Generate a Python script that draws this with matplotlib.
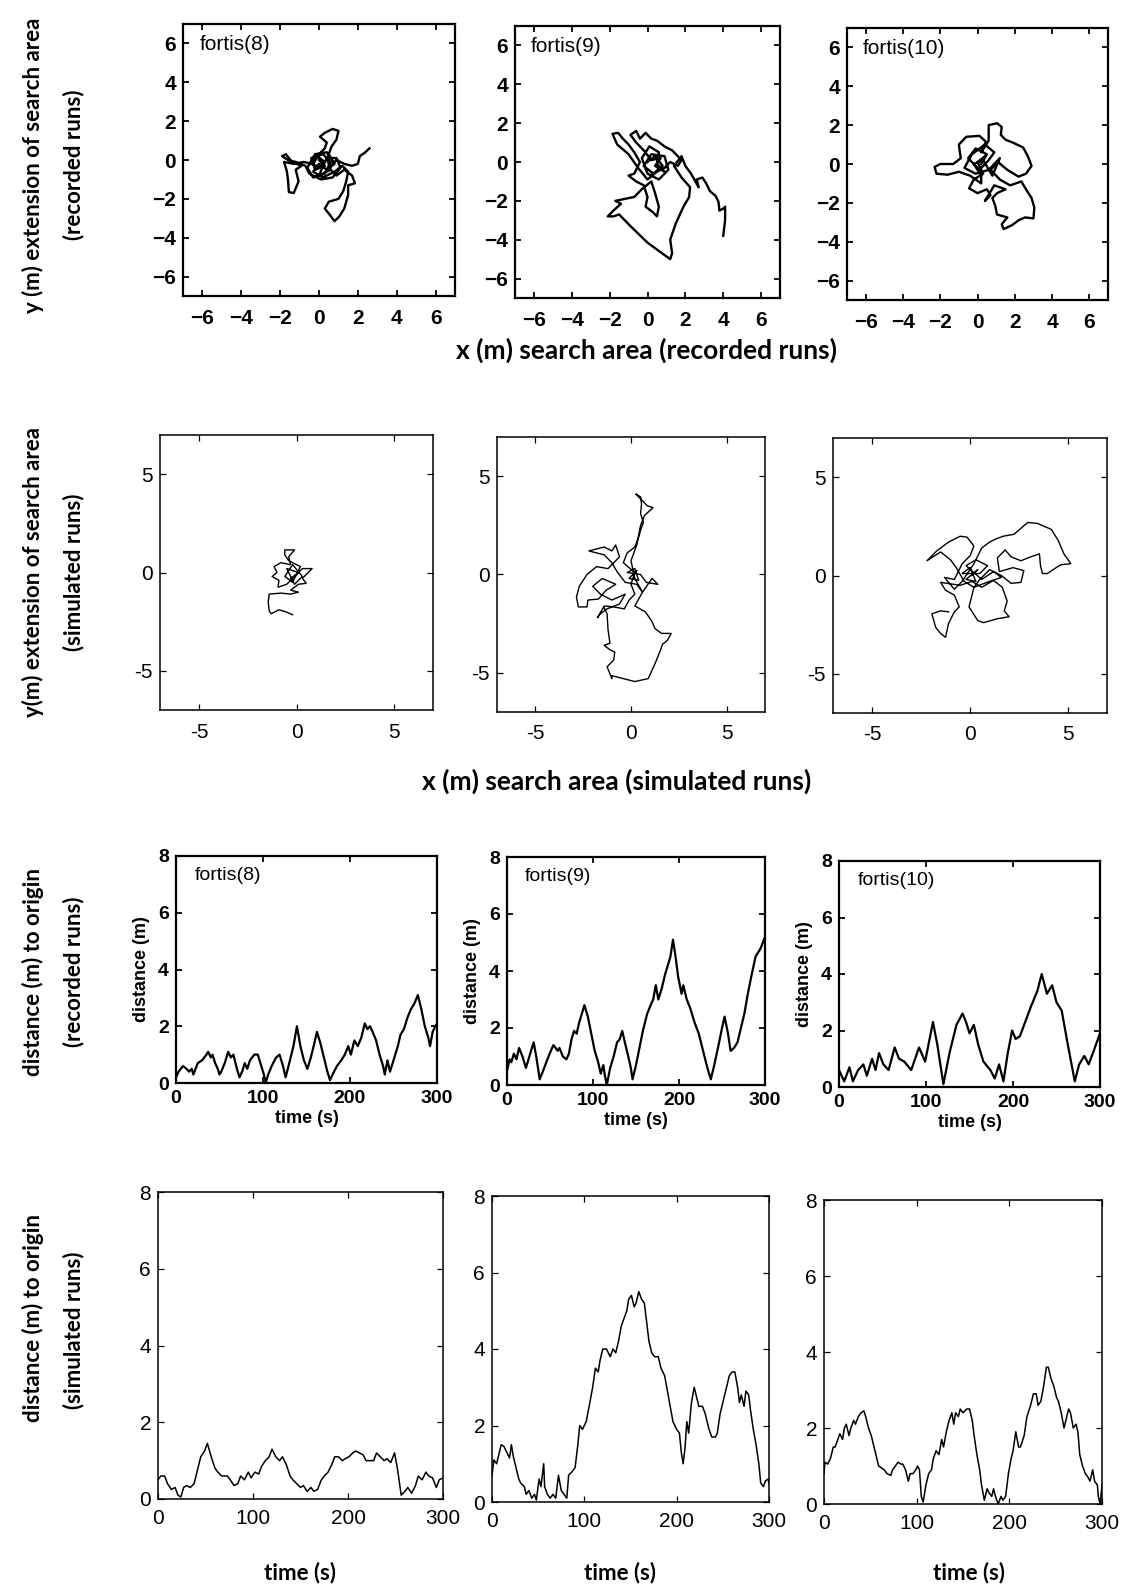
import numpy as np
import matplotlib.pyplot as plt

plt.rcParams['font.family'] = ['Liberation Sans', 'DejaVu Sans']

W, H = 1123, 1587

names = ['fortis(8)', 'fortis(9)', 'fortis(10)']
xy_ticks_rec = [-6, -4, -2, 0, 2, 4, 6]
xy_labels_rec = ['\u22126', '\u22124', '\u22122', '0', '2', '4', '6']
xy_ticks_sim = [-5, 0, 5]
xy_labels_sim = ['-5', '0', '5']
t_ticks = [0, 100, 200, 300]
d_ticks = [0, 2, 4, 6, 8]

# recorded search paths (x, y) in m
rec8 = [(0, 0), (0.3, -0.3), (-0.2, -0.5), (-0.4, 0.1), (0.2, 0.3), (0.6, -0.1), (0.3, -0.7), (-0.3, -0.9),
        (-0.6, -0.4), (-0.2, 0.3), (0.4, 0.4), (0.5, 0.2), (0.1, -0.4), (-0.4, -0.2), (-0.1, 0.2), (0.3, -0.1),
        (0.0, -0.8), (0.6, -0.5), (0.4, 0.1), (0.9, 0.1), (1.1, -0.4), (0.7, -0.9), (0.1, -1.0), (-0.5, -0.7),
        (-0.7, -0.3), (-1.2, -0.1), (-1.6, 0.0), (-1.9, 0.2), (-1.7, 0.3), (-1.4, -0.1), (-0.9, -0.3),
        (-1.2, -0.5), (-1.05, -1.1), (-1.3, -1.7), (-1.55, -1.65), (-1.6, -1.0), (-1.65, -0.6), (-1.8, -0.1),
        (-1.3, -0.2), (-0.8, -0.1), (-0.3, -0.2), (0.0, 0.3), (0.3, 0.6), (0.4, 0.9), (0.05, 1.2), (0.3, 1.4),
        (0.7, 1.6), (1.0, 1.5), (0.9, 1.05), (0.65, 0.7), (0.5, 0.3), (0.8, -0.2), (0.4, -0.5), (0.0, -0.2),
        (-0.3, -0.6), (0.2, -0.9), (0.8, -0.6), (1.2, -0.3), (1.5, -0.6), (1.4, -1.1), (1.25, -1.6),
        (1.0, -2.0), (0.5, -2.15), (0.3, -2.5), (0.5, -2.75), (0.8, -3.15), (1.05, -2.9), (1.3, -2.5),
        (1.5, -1.8), (1.5, -1.3), (1.85, -1.2), (1.7, -0.8), (1.3, -0.5), (0.9, -0.8), (0.5, -0.4),
        (0.9, 0.0), (1.3, -0.2), (1.7, -0.3), (2.0, -0.2), (2.1, 0.2), (2.35, 0.37), (2.6, 0.6)]
rec9 = [(0, 0), (0.4, 0.3), (0.8, -0.2), (0.3, -0.6), (-0.2, -0.2), (0.2, 0.4), (0.9, 0.3), (1.1, -0.4),
        (0.6, -0.9), (0.0, -0.6), (-0.3, 0.2), (0.1, 0.8), (0.6, 0.5), (0.5, -0.1), (0.9, -0.5), (0.4, -0.2),
        (0.7, 0.2), (0.2, 0.1), (-0.2, 0.6), (-0.6, 1.0),
        (-0.9, 1.4), (-0.6, 1.6), (-0.4, 1.2), (-0.1, 1.5), (0.2, 1.2), (0.5, 1.1), (0.9, 0.8), (1.3, 0.6),
        (1.6, 0.3), (1.8, 0.1), (1.6, -0.2), (1.2, 0.0), (0.9, -0.3), (0.5, -0.5), (0.0, -0.9), (-0.5, -0.3),
        (-1.0, 0.4), (-1.6, 0.9), (-1.85, 1.45), (-1.55, 1.5), (-1.3, 1.2), (-1.0, 0.9), (-0.7, 0.5),
        (-0.4, 0.0), (-0.7, -0.6), (-1.0, -0.7), (-0.6, -1.0), (-0.2, -1.2), (0.0, -1.8), (-0.1, -2.3),
        (0.3, -2.6), (0.5, -2.8), (0.6, -2.3), (0.4, -1.6), (0.2, -1.0), (-0.3, -1.4), (-0.7, -1.8),
        (-1.2, -1.9), (-1.7, -2.0), (-1.4, -2.15), (-1.8, -2.5), (-2.1, -2.8), (-1.8, -2.8), (-1.5, -2.7),
        (-0.9, -3.3), (0.0, -4.15), (0.7, -4.65), (1.2, -5.0), (1.3, -4.7), (1.2, -4.0), (1.5, -3.15),
        (1.9, -2.3), (2.2, -1.8), (2.25, -1.3), (1.8, -0.8), (1.4, -0.2), (1.8, 0.3), (2.0, -0.2),
        (2.3, -0.6), (2.7, -1.3), (2.6, -0.9), (2.9, -0.8), (3.1, -1.1), (3.3, -1.5), (3.6, -1.75),
        (3.75, -2.05), (3.8, -2.5), (4.0, -2.4), (4.1, -2.3), (4.1, -3.0), (4.0, -3.8)]
rec10 = [(0.2, 0.0), (0.5, 0.5), (-0.1, 0.8), (-0.5, 0.3), (0.1, -0.3), (0.6, 0.2), (0.9, 0.6), (0.4, 1.0),
         (-0.3, 0.5), (-0.7, -0.2), (-0.1, -0.5), (0.6, -0.3), (1.2, 0.3), (0.8, -0.6), (0.3, 0.2),
         (-0.2, 0.0), (0.2, -0.6), (0.2, -1.0),
         (-0.4, -0.6), (-1.0, -0.4), (-1.6, -0.55), (-2.2, -0.5), (-2.3, -0.15), (-2.0, 0.0), (-1.3, 0.0),
         (-0.9, 0.3), (-1.0, 1.0), (-0.6, 1.4), (0.1, 1.45), (0.45, 1.15), (0.2, 0.6), (0.6, 1.2), (0.6, 2.0),
         (1.05, 2.1), (1.3, 1.9), (1.25, 1.5), (1.5, 1.25), (1.9, 1.1), (2.45, 0.85), (2.7, 0.4), (2.9, -0.1),
         (2.6, -0.5), (2.2, -0.65), (1.6, -0.3), (1.1, 0.1), (0.7, -0.3), (1.2, -0.8), (1.75, -1.1),
         (2.35, -0.9), (2.6, -1.3), (2.9, -1.75), (3.05, -2.25), (3.0, -2.8), (2.55, -2.75), (2.2, -2.9),
         (1.85, -3.15), (1.4, -3.35), (1.3, -3.1), (1.6, -2.75), (1.05, -2.6), (0.95, -2.15), (0.8, -1.75),
         (1.05, -1.5), (1.5, -1.3), (0.9, -1.1), (0.4, -1.9), (0.7, -1.6), (0.5, -1.3), (0.0, -1.5),
         (-0.45, -1.25), (-0.2, -0.8), (0.3, -0.5), (0.0, 0.1), (0.4, 0.4)]

# simulated search paths (x, y) in m
sim8 = [(-0.3, -0.3), (0.1, 0.0), (-0.5, 0.2), (-0.1, -0.6), (0.3, -0.2), (-0.2, 0.4), (-0.6, -0.2),
        (-0.2, -0.5), (0.2, 0.3), (-0.4, 0.6), (-0.6, 0.9), (-0.6, 1.15), (-0.1, 1.15), (-0.4, 0.8),
        (-0.3, 0.4), (-0.8, 0.5), (-1.15, 0.3), (-1.0, 0.0), (-1.25, -0.2), (-0.9, -0.4), (-0.95, -0.75),
        (-0.5, -0.6), (-0.1, -0.2), (0.3, 0.2), (0.8, 0.2), (0.6, 0.0), (0.3, -0.3), (0.5, -0.55),
        (0.1, -0.6), (-0.3, -0.9), (0.1, -1.0), (-0.3, -1.1), (-0.8, -1.05), (-1.4, -1.1), (-1.45, -1.5),
        (-1.4, -1.95), (-1.3, -2.1), (-0.9, -1.9), (-0.55, -2.0), (-0.2, -2.15)]
sim9 = [(0.1, 0.0), (0.3, 0.2), (-0.1, -0.2), (0.4, -0.3), (0.2, 0.3), (-0.2, 0.1), (0.5, 0.0), (0.8, -0.4),
        (1.4, -0.5), (1.1, -0.2), (0.6, -0.9), (0.3, -0.5), (-0.3, -0.4), (-0.7, 0.1), (-1.0, 0.6),
        (-1.4, 1.0), (-2.2, 1.2), (-1.4, 1.4), (-1.0, 1.2), (-0.8, 1.5), (-0.6, 0.9), (-1.2, 0.3),
        (-1.8, 0.4), (-2.3, 0.0), (-2.7, -0.6), (-2.85, -1.15), (-2.75, -1.65), (-2.3, -1.65),
        (-2.25, -1.3), (-1.7, -1.25), (-1.3, -0.8), (-0.8, -0.5), (-1.5, -0.2), (-2.0, -0.6), (-1.6, -1.0),
        (-1.0, -1.3), (-0.3, -1.0), (-0.6, -1.5), (-1.25, -1.75), (-1.6, -2.0), (-1.75, -2.2), (-1.4, -1.6),
        (-0.9, -1.65), (-0.35, -1.75), (-0.1, -1.3), (0.2, -1.0), (0.0, -0.5), (0.2, 0.1), (-0.4, 0.6),
        (-0.2, 1.1), (0.2, 1.4), (0.4, 1.9), (0.5, 2.25), (0.65, 2.65), (0.5, 3.1), (0.55, 3.6),
        (0.5, 3.95), (0.25, 4.1), (0.85, 3.5), (1.15, 3.4), (0.7, 3.0), (0.5, 2.5), (0.3, 1.5), (0.0, 0.7),
        (0.2, -0.2), (0.6, -0.9), (0.2, -1.6), (0.75, -1.9), (1.1, -2.4), (1.25, -2.75), (1.6, -3.0),
        (2.1, -3.0), (1.9, -3.35), (1.65, -3.55), (1.5, -3.95), (1.25, -4.55), (0.9, -5.3), (0.2, -5.45),
        (-0.4, -5.3), (-1.0, -5.15), (-1.0, -5.3), (-1.25, -4.7), (-0.9, -4.35), (-0.85, -3.95),
        (-1.15, -3.8), (-1.4, -3.6), (-1.1, -3.5), (-1.2, -2.8), (-1.25, -2.0), (-1.4, -1.7)]
sim10 = [(0.1, 0.0), (0.4, 0.3), (-0.2, -0.2), (0.3, -0.3), (0.0, 0.4), (-0.4, 0.1), (0.5, 0.1), (0.9, 0.5),
         (0.3, 0.8), (-0.2, 0.5), (0.6, -0.2), (1.2, 0.2), (1.6, -0.1), (1.0, -0.3), (0.2, -0.6),
         (-0.3, -0.3), (-0.7, 0.4), (-1.0, 0.8), (-1.5, 1.2), (-2.2, 0.75), (-1.7, 1.25), (-1.1, 1.7),
         (-0.5, 2.0), (-0.15, 1.95), (0.2, 1.5), (0.0, 1.0), (-0.4, 0.6), (-0.8, -0.2), (-1.3, -0.1),
         (-0.8, -0.7), (-0.4, -0.3), (0.2, 0.6), (0.6, 1.4), (1.0, 1.7), (1.3, 1.85), (1.7, 2.0), (2.25, 2.1),
         (2.95, 2.7), (3.45, 2.65), (4.15, 2.35), (4.5, 1.8), (4.8, 1.1), (5.15, 0.6), (4.65, 0.55),
         (4.4, 0.4), (3.95, 0.1), (3.7, 0.1), (3.6, 0.5), (3.55, 1.1), (3.1, 0.95), (2.6, 0.75), (2.1, 0.95),
         (1.8, 1.3), (1.4, 0.9), (1.5, 0.2), (2.2, 0.4), (2.75, 0.25), (2.6, -0.35), (2.1, -0.4), (1.6, 0.0),
         (1.0, 0.3), (0.5, -0.2), (0.2, -0.6), (-0.05, -1.6), (0.4, -2.3), (0.7, -2.4), (1.4, -2.2),
         (2.0, -2.1), (1.75, -1.8), (1.9, -1.3), (1.65, -0.6), (1.2, -0.25), (0.6, -0.6), (0.1, -0.3),
         (-0.5, -0.5), (-1.5, -0.35), (-1.25, -0.75), (-0.8, -1.0), (-0.55, -1.6), (-0.8, -1.85),
         (-1.1, -2.45), (-1.25, -3.15), (-1.5, -2.95), (-1.75, -2.65), (-1.95, -1.95), (-1.5, -1.8),
         (-1.1, -1.85)]

# distance to origin (t in s, d in m), recorded runs
dist_rec8 = [(0, 0.2), (3, 0.4), (8, 0.6), (12, 0.5), (15, 0.4), (18, 0.5), (20, 0.3), (25, 0.7), (30, 0.8),
             (35, 1.0), (37, 1.1), (40, 0.9), (42, 1.0), (45, 0.7), (48, 0.5), (50, 0.3), (52, 0.4), (56, 0.7),
             (60, 1.1), (63, 0.9), (66, 1.0), (70, 0.5), (73, 0.2), (76, 0.4), (79, 0.7), (82, 0.5), (85, 0.8),
             (90, 1.0), (94, 1.0), (98, 0.6), (101, 0.3), (103, 0.0), (106, 0.3), (110, 0.6), (115, 0.9),
             (119, 1.0), (123, 0.6), (126, 0.2), (131, 0.8), (135, 1.3), (139, 2.0), (143, 1.3), (147, 0.8),
             (151, 0.5), (155, 0.9), (159, 1.4), (162, 1.8), (166, 1.4), (170, 0.9), (174, 0.4), (177, 0.1),
             (180, 0.3), (185, 0.6), (190, 0.8), (194, 1.0), (198, 1.3), (201, 1.0), (205, 1.5), (209, 1.3),
             (213, 1.6), (217, 2.1), (220, 1.9), (223, 2.0), (226, 1.8), (230, 1.5), (234, 1.0), (238, 0.6),
             (240, 0.3), (243, 0.8), (246, 0.4), (249, 0.7), (252, 1.0), (255, 1.3), (258, 1.7), (262, 1.9),
             (266, 2.3), (270, 2.6), (274, 2.8), (278, 3.1), (282, 2.6), (286, 2.0), (290, 1.6), (292, 1.3),
             (295, 1.8), (298, 2.0), (300, 2.1)]
dist_rec9 = [(0, 0.5), (3, 0.9), (5, 0.8), (8, 1.1), (11, 0.9), (14, 1.3), (18, 1.0), (22, 0.6), (27, 1.1),
             (31, 1.5), (34, 1.0), (38, 0.2), (42, 0.5), (47, 0.9), (51, 1.2), (54, 1.4), (59, 1.2), (61, 1.3),
             (65, 1.0), (69, 0.9), (72, 1.1), (75, 1.6), (78, 1.9), (81, 1.8), (84, 2.2), (90, 2.8), (94, 2.4),
             (98, 1.8), (102, 1.2), (106, 0.8), (109, 0.4), (112, 0.7), (114, 0.3), (116, 0.0), (120, 0.6),
             (124, 1.0), (128, 1.5), (131, 1.6), (134, 1.9), (137, 1.5), (141, 1.0), (144, 0.6), (146, 0.2),
             (150, 0.7), (154, 1.3), (158, 1.9), (163, 2.5), (167, 2.8), (170, 3.0), (173, 3.5), (176, 3.0),
             (180, 3.4), (184, 3.9), (190, 4.5), (193, 5.1), (196, 4.5), (199, 3.8), (203, 3.2), (205, 3.5),
             (209, 3.0), (213, 2.7), (218, 2.2), (223, 1.8), (228, 1.2), (233, 0.6), (237, 0.2), (241, 0.7),
             (246, 1.4), (250, 2.0), (253, 2.4), (257, 1.8), (260, 1.2), (264, 1.3), (268, 1.5), (272, 2.0),
             (276, 2.5), (280, 3.2), (284, 3.8), (289, 4.5), (295, 4.8), (300, 5.2)]
dist_rec10 = [(0, 0.6), (6, 0.2), (12, 0.7), (16, 0.2), (22, 0.6), (28, 0.8), (32, 0.4), (38, 1.0), (42, 0.6),
              (46, 1.2), (51, 0.8), (57, 0.6), (64, 1.4), (69, 1.0), (75, 0.9), (83, 0.6), (92, 1.4), (99, 0.9),
              (108, 2.3), (113, 1.5), (120, 0.1), (127, 1.2), (135, 2.2), (142, 2.6), (146, 2.3), (150, 1.9),
              (155, 2.2), (160, 1.5), (166, 0.9), (174, 0.6), (179, 0.3), (184, 0.8), (189, 0.2), (194, 1.2),
              (199, 2.0), (203, 1.7), (208, 1.8), (214, 2.3), (220, 2.8), (228, 3.4), (233, 4.0), (239, 3.3),
              (245, 3.6), (250, 3.0), (256, 2.7), (263, 1.5), (271, 0.2), (276, 0.8), (282, 1.1), (287, 0.8),
              (293, 1.3), (300, 1.9)]

# distance to origin, simulated runs
dist_sim8 = [(0, 0.5), (3, 0.6), (7, 0.6), (10, 0.4), (14, 0.25), (18, 0.3), (21, 0.1), (24, 0.05), (27, 0.3),
             (30, 0.35), (34, 0.3), (38, 0.4), (41, 0.7), (45, 1.1), (49, 1.25), (52, 1.45), (56, 1.1),
             (60, 0.8), (63, 0.7), (67, 0.6), (73, 0.6), (76, 0.5), (80, 0.35), (84, 0.4), (87, 0.6), (91, 0.5),
             (95, 0.7), (98, 0.55), (102, 0.7), (106, 0.65), (109, 0.85), (113, 1.0), (117, 1.1), (120, 1.3),
             (124, 1.1), (128, 1.0), (131, 1.1), (135, 0.9), (139, 0.6), (142, 0.5), (146, 0.4), (150, 0.3),
             (153, 0.35), (157, 0.2), (161, 0.3), (164, 0.2), (168, 0.25), (172, 0.5), (175, 0.6), (179, 0.7),
             (183, 0.9), (186, 1.1), (190, 1.1), (194, 1.0), (197, 1.05), (201, 1.1), (205, 1.2), (208, 1.25),
             (212, 1.2), (216, 1.15), (219, 1.0), (223, 1.0), (227, 1.0), (230, 1.2), (234, 1.1), (238, 1.0),
             (241, 1.05), (245, 0.95), (249, 1.2), (252, 0.8), (256, 0.1), (260, 0.2), (263, 0.3), (267, 0.15),
             (271, 0.35), (274, 0.6), (278, 0.5), (282, 0.7), (285, 0.6), (289, 0.55), (293, 0.3), (296, 0.5),
             (300, 0.55)]
dist_sim9 = [(0, 0.7), (2, 1.1), (5, 1.0), (7, 1.2), (10, 1.5), (13, 1.45), (16, 1.3), (19, 1.15), (21, 1.5),
             (23, 1.2), (26, 0.9), (29, 0.6), (31, 0.5), (35, 0.4), (37, 0.2), (40, 0.3), (43, 0.1), (46, 0.2),
             (48, 0.05), (51, 0.6), (53, 0.4), (56, 1.0), (57, 0.4), (60, 0.2), (63, 0.1), (66, 0.2), (69, 0.1),
             (72, 0.7), (75, 0.3), (78, 0.2), (81, 0.1), (83, 0.7), (87, 0.8), (90, 0.9), (93, 1.5), (95, 2.0),
             (98, 1.9), (102, 2.1), (106, 2.6), (109, 3.0), (112, 3.5), (115, 3.4), (117, 3.7), (120, 4.0),
             (124, 4.0), (128, 3.8), (131, 4.0), (134, 3.9), (137, 4.2), (140, 4.6), (143, 4.8), (146, 5.0),
             (148, 5.3), (151, 5.4), (154, 5.1), (156, 5.2), (159, 5.5), (162, 5.3), (165, 5.2), (168, 4.6),
             (170, 4.2), (173, 3.9), (176, 3.8), (180, 3.8), (183, 3.5), (187, 3.3), (190, 2.9), (193, 2.5),
             (196, 2.1), (200, 1.9), (203, 1.8), (205, 1.3), (207, 1.0), (209, 1.4), (211, 2.1), (213, 1.8),
             (216, 2.6), (219, 3.0), (221, 2.8), (224, 2.5), (228, 2.5), (231, 2.3), (235, 1.9), (238, 1.7),
             (242, 1.7), (244, 1.8), (247, 2.3), (250, 2.6), (254, 3.0), (257, 3.3), (260, 3.4), (263, 3.4),
             (266, 3.0), (268, 2.6), (270, 2.8), (273, 2.5), (275, 2.9), (278, 2.8), (280, 2.4), (283, 1.9),
             (286, 1.5), (289, 1.0), (291, 0.5), (294, 0.4), (296, 0.55), (299, 0.6), (300, 0.5)]
dist_sim10 = [(0, 0.8), (1, 1.1), (4, 1.05), (7, 1.2), (10, 1.5), (12, 1.5), (15, 1.7), (17, 1.85), (20, 1.7),
              (22, 2.0), (24, 2.1), (27, 1.8), (29, 2.0), (32, 2.2), (34, 2.1), (37, 2.3), (40, 2.4), (43, 2.45),
              (45, 2.3), (48, 2.0), (51, 1.8), (54, 1.5), (56, 1.3), (59, 1.0), (62, 0.95), (65, 0.9), (68, 0.8),
              (72, 0.75), (74, 0.9), (77, 1.0), (80, 1.1), (83, 1.05), (85, 1.05), (88, 0.9), (91, 0.6),
              (93, 0.8), (96, 0.8), (99, 0.9), (101, 1.0), (103, 0.9), (105, 0.2), (107, 0.05), (110, 0.5),
              (113, 0.8), (116, 0.9), (118, 1.2), (121, 1.4), (124, 1.3), (127, 1.7), (129, 1.5), (132, 1.9),
              (135, 2.2), (138, 2.4), (140, 2.1), (142, 2.4), (145, 2.3), (147, 2.5), (150, 2.4), (154, 2.5),
              (157, 2.5), (160, 2.2), (162, 1.8), (165, 1.3), (168, 0.9), (170, 0.5), (173, 0.1), (176, 0.4),
              (178, 0.3), (181, 0.2), (183, 0.4), (185, 0.2), (188, 0.0), (191, 0.2), (193, 0.1), (196, 0.2),
              (199, 0.8), (202, 1.2), (204, 1.4), (207, 1.9), (210, 1.5), (212, 1.5), (216, 1.8), (219, 2.3),
              (223, 2.6), (226, 2.9), (229, 2.9), (231, 2.6), (234, 2.7), (237, 3.1), (240, 3.6), (242, 3.6),
              (245, 3.3), (248, 3.1), (251, 2.8), (253, 2.7), (256, 2.4), (259, 2.0), (262, 2.3), (264, 2.5),
              (266, 2.4), (269, 2.0), (272, 2.1), (274, 1.9), (276, 1.3), (279, 1.0), (282, 0.8), (285, 0.7),
              (287, 0.6), (290, 0.9), (292, 0.6), (295, 0.5), (296, 0.2), (298, 0.0), (300, 0.5)]

rec_tracks = [rec8, rec9, rec10]
sim_tracks = [sim8, sim9, sim10]
rec_dist = [dist_rec8, dist_rec9, dist_rec10]
sim_dist = [dist_sim8, dist_sim9, dist_sim10]

# axes boxes in pixels: left, top, right, bottom
boxes_r1 = [(183, 24, 455, 296), (515, 26, 780, 298), (847, 28, 1108, 300)]
boxes_r2 = [(160, 435, 433, 710), (497, 437, 765, 712), (833, 438, 1107, 713)]
boxes_r3 = [(176, 856, 437, 1083), (507, 857, 765, 1085), (839, 861, 1100, 1087)]
boxes_r4 = [(158, 1192, 443, 1499), (492, 1196, 769, 1502), (824, 1200, 1102, 1504)]


def rect(b):
    l, t, r, bt = b
    return [l / W, 1 - bt / H, (r - l) / W, (bt - t) / H]


def ftext(x, y, s, **kw):
    fig.text(x / W, 1 - y / H, s, **kw)


def frame(ax, lw, size, bold):
    for sp in ax.spines.values():
        sp.set_linewidth(lw)
    ax.tick_params(direction='in', top=True, right=True, length=4, width=lw * 0.8,
                   labelsize=size, pad=5)
    ax.tick_params(axis='x', pad=9)
    w = 'bold' if bold else 'normal'
    for lab in ax.get_xticklabels() + ax.get_yticklabels():
        lab.set_fontweight(w)


fig = plt.figure(figsize=(W / 100, H / 100), dpi=100)

for i in range(3):
    # recorded search paths
    ax = fig.add_axes(rect(boxes_r1[i]))
    p = np.array(rec_tracks[i])
    ax.plot(p[:, 0], p[:, 1], color='black', lw=1.7)
    ax.set_xlim(-7, 7)
    ax.set_ylim(-7, 7)
    ax.set_xticks(xy_ticks_rec)
    ax.set_xticklabels(xy_labels_rec)
    ax.set_yticks(xy_ticks_rec)
    ax.set_yticklabels(xy_labels_rec)
    frame(ax, 1.6, 15, True)
    ax.text(0.06, 0.96, names[i], transform=ax.transAxes, ha='left', va='top', fontsize=15)

    # simulated search paths
    ax = fig.add_axes(rect(boxes_r2[i]))
    p = np.array(sim_tracks[i])
    ax.plot(p[:, 0], p[:, 1], color='black', lw=1.0)
    ax.set_xlim(-7, 7)
    ax.set_ylim(-7, 7)
    ax.set_xticks(xy_ticks_sim)
    ax.set_xticklabels(xy_labels_sim)
    ax.set_yticks(xy_ticks_sim)
    ax.set_yticklabels(xy_labels_sim)
    frame(ax, 1.1, 15, False)

    # recorded distance
    ax = fig.add_axes(rect(boxes_r3[i]))
    p = np.array(rec_dist[i])
    ax.plot(p[:, 0], p[:, 1], color='black', lw=1.6)
    ax.set_xlim(0, 300)
    ax.set_ylim(0, 8)
    ax.set_xticks(t_ticks)
    ax.set_yticks(d_ticks)
    frame(ax, 1.6, 14, True)
    ax.tick_params(axis='x', pad=5)
    ax.text(0.07, 0.95, names[i], transform=ax.transAxes, ha='left', va='top', fontsize=14)
    ax.set_xlabel('time (s)', fontsize=13, fontweight='bold', labelpad=2)
    ax.set_ylabel('distance (m)', fontsize=13, fontweight='bold', labelpad=6)

    # simulated distance
    ax = fig.add_axes(rect(boxes_r4[i]))
    p = np.array(sim_dist[i])
    ax.plot(p[:, 0], p[:, 1], color='black', lw=1.1)
    ax.set_xlim(0, 300)
    ax.set_ylim(0, 8)
    ax.set_xticks(t_ticks)
    ax.set_yticks(d_ticks)
    frame(ax, 1.1, 15, False)
    ax.tick_params(axis='x', pad=7)

side = dict(family=['Lato', 'DejaVu Sans'], fontweight='bold', fontsize=16,
            rotation=90, ha='center', va='center')
ftext(33, 165, 'y (m) extension of search area', **side)
ftext(74, 165, '(recorded runs)', **side)
ftext(33, 572, 'y(m) extension of search area', **side)
ftext(74, 572, '(simulated runs)', **side)
ftext(33, 972, 'distance (m) to origin', **side)
ftext(74, 972, '(recorded runs)', **side)
ftext(33, 1318, 'distance (m) to origin', **side)
ftext(74, 1330, '(simulated runs)', **side)

bottom = dict(family=['Lato', 'DejaVu Sans'], fontweight='bold', fontsize=19, ha='center', va='center')
ftext(646, 350, 'x (m) search area (recorded runs)', **bottom)
ftext(617, 781, 'x (m) search area (simulated runs)', **bottom)
tb = dict(bottom, fontsize=16)
ftext(300, 1573, 'time (s)', **tb)
ftext(620, 1573, 'time (s)', **tb)
ftext(969, 1573, 'time (s)', **tb)

fig.savefig('out.png', dpi=100, facecolor='white')
